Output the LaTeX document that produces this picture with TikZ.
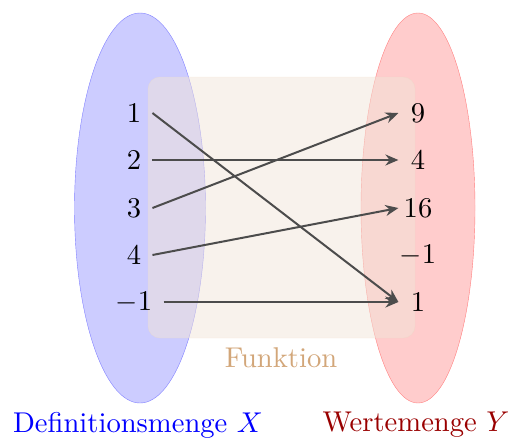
\documentclass[tikz,border=0pt]{standalone}
\usetikzlibrary{arrows.meta}
\begin{document}
\begin{tikzpicture}[x=1pt,y=-1pt,
  every node/.style={font=\fontsize{10}{12}\selectfont, scale=2.86},
  lnum/.style={inner xsep=3.75pt, inner ysep=1.5pt},
  rnum/.style={inner sep=0pt, minimum width=13.3pt, minimum height=8.7pt},
  maparrow/.style={draw=black!70, line width=2pt, -{Stealth[length=13pt,width=11pt]}},
]
\useasboundingbox (0,0) rectangle (510,439);
\draw[blue!50, fill=blue!20] (140,208) ellipse [x radius=65.5, y radius=195];
\draw[red!50, fill=red!20] (418,208) ellipse [x radius=57, y radius=195];
\draw[rounded corners=12pt, draw=brown!30, fill=brown!20, opacity=0.5] (148,77) rectangle (415,338);

\node[lnum] (l1) at (134,113) {1};
\node[lnum] (l2) at (134,160) {2};
\node[lnum] (l3) at (134,208) {3};
\node[lnum] (l4) at (134,255) {4};
\node[lnum] (l5) at (134,302) {$-1$};

\node[rnum] (r9) at (418,113) {9};
\node[rnum] (r4) at (418,160) {4};
\node[rnum] (r16) at (418,208) {16};
\node[rnum] (rm1) at (418,255) {$-1$};
\node[rnum] (r1) at (418,302) {1};

\draw[maparrow] (l1.east) -- (r1.west);
\draw[maparrow] (l2.east) -- (r4.west);
\draw[maparrow] (l3.east) -- (r9.west);
\draw[maparrow] (l4.east) -- (r16.west);
\draw[maparrow] (l5.east) -- (r1.west);

\node[text=brown!70] (fn) at (281,358) {Funktion};
\node[text=blue] (dom) at (138,425) {Definitionsmenge $X$};
\node[text=red!60!black] (cod) at (416,425) {Wertemenge $Y$};
\end{tikzpicture}
\end{document}
